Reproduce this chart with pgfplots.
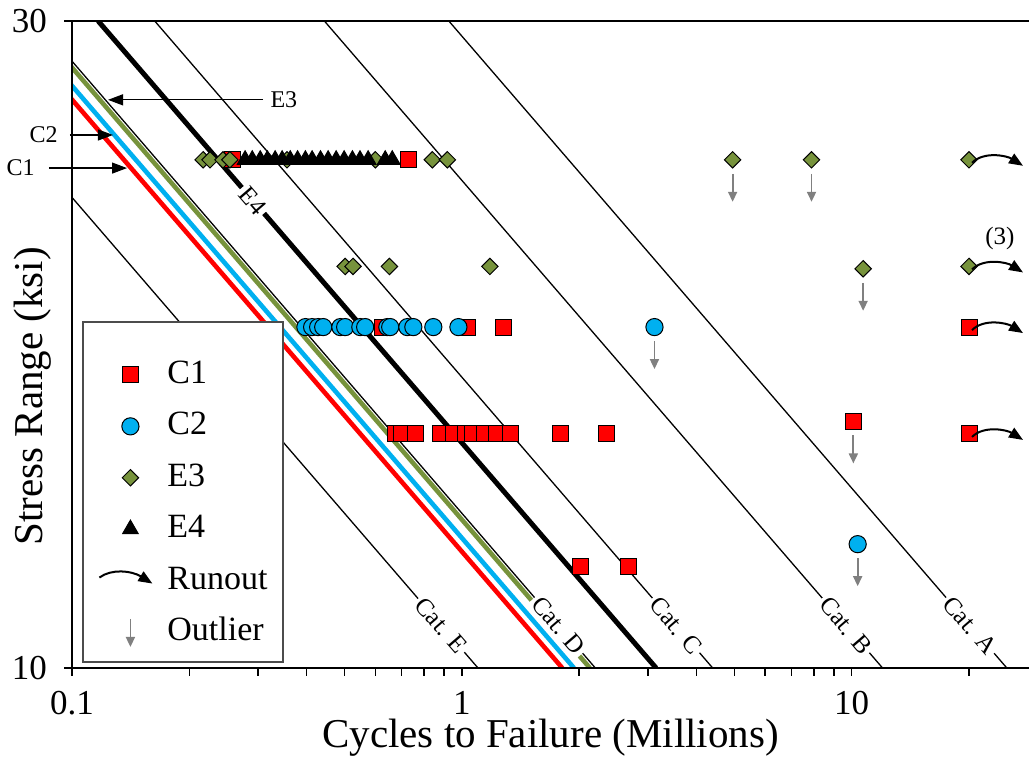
\documentclass[border=0pt]{standalone}
\usepackage{fontspec}
\setmainfont{Liberation Serif}
\usepackage{pgfplots}
\pgfplotsset{compat=1.18}
\usetikzlibrary{arrows.meta}

\definecolor{cOne}{RGB}{255,0,0}
\definecolor{cTwo}{RGB}{0,176,240}
\definecolor{eThree}{RGB}{119,147,60}
\definecolor{outl}{RGB}{128,128,128}

\tikzset{
  runout/.style={line width=1pt, -{Triangle[length=7pt,width=5.5pt]}},
  outlier/.style={draw=outl, line width=0.9pt, -{Triangle[length=5pt,width=4.5pt]}},
  callout/.style={line width=0.6pt, -{Triangle[length=7.5pt,width=5.5pt]}},
  catlabel/.style={font=\fontsize{12.5}{14}\selectfont, fill=white, inner sep=1.5pt, rotate=-49.2},
  smalltext/.style={font=\fontsize{12}{14}\selectfont, inner sep=0pt},
}

\begin{document}
\begin{tikzpicture}
\begin{axis}[
  scale only axis, width=478.5pt, height=323.5pt,
  xmode=log, ymode=log,
  xmin=0.1, xmax=28.5, ymin=10, ymax=30,
  xtick={0.1,1,10}, xticklabels={0.1,1,10},
  minor xtick={0.2,0.3,0.4,0.5,0.6,0.7,0.8,0.9,2,3,4,5,6,7,8,9,20},
  ytick={10,30}, yticklabels={10,30}, minor ytick={},
  tick pos=left, tick align=outside,
  major tick length=4pt, minor tick length=4pt,
  every tick/.style={black, line width=0.7pt},
  axis line style={draw=none},
  ticklabel style={font=\fontsize{17.5}{21}\selectfont},
  xticklabel style={yshift=-4pt},
  yticklabel style={xshift=-5pt},
  /pgf/number format/assume math mode=true,
  xlabel={Cycles to Failure (Millions)},
  ylabel={Stress Range (ksi)},
  every axis x label/.style={at={(axis description cs:0.5,0)}, yshift=-35pt, anchor=center,
    font=\fontsize{20.5}{24}\selectfont},
  every axis y label/.style={at={(axis description cs:0,0.42)}, xshift=-19.5pt, rotate=90, anchor=center,
    font=\fontsize{20.5}{24}\selectfont},
  clip mode=individual,
  legend cell align=left,
  legend style={at={(axis description cs:0.0272,0.2543)}, anchor=west,
    draw=none, fill=none,
    font=\fontsize{17}{20}\selectfont, row sep=5.6pt, column sep=5pt, inner xsep=0pt, inner ysep=0pt,
    nodes={inner sep=2pt, text height=12.3pt, text depth=3.8pt}},
  legend image code/.code={\path (0pt,0pt) (26.5pt,0pt); \draw[#1] plot coordinates {(15.5pt,0pt)};},
]

% AASHTO design categories (N in millions, S in ksi)
\addplot[forget plot, black, line width=0.65pt] coordinates {(0.926,30) (25,10)};
\addplot[forget plot, black, line width=0.65pt] coordinates {(0.444,30) (12,10)};
\addplot[forget plot, black, line width=0.65pt] coordinates {(0.163,30) (4.4,10)};
\addplot[forget plot, black, line width=0.65pt] coordinates {(0.0815,30) (2.2,10)};
\addplot[forget plot, black, line width=0.65pt] coordinates {(0.0407,30) (1.1,10)};

% specimen regression lines
\addplot[forget plot, cOne, line width=2.3pt] coordinates {(0.0670,30) (1.81,10)};
\addplot[forget plot, cTwo, line width=2.3pt] coordinates {(0.0719,30) (1.94,10)};
\addplot[forget plot, eThree, line width=2.3pt] coordinates {(0.0789,30) (2.13,10)};
\addplot[forget plot, black, line width=2.5pt] coordinates {(0.1167,30) (3.15,10)};

% line labels
\node[catlabel] at (axis cs:20.12,10.75) {Cat. A};
\node[catlabel] at (axis cs:9.66,10.75) {Cat. B};
\node[catlabel] at (axis cs:3.54,10.75) {Cat. C};
\node[catlabel] at (axis cs:1.771,10.75) {Cat. D};
\node[catlabel] at (axis cs:0.885,10.75) {Cat. E};
\node[catlabel] at (axis cs:0.2903,22.1) {E4};

% legend frame
\draw[draw=black!70, line width=0.8pt, fill=white]
  (rel axis cs:0.0115,0.5348) rectangle (rel axis cs:0.2205,0.0093);

% test data
\addplot[only marks, mark=square*, mark size=4pt,
  mark options={fill=cOne, draw=black, line width=0.5pt}] coordinates {
  (0.258,23.7) (0.729,23.7)
  (0.625,17.84) (1.033,17.84) (1.28,17.84) (20,17.84)
  (0.675,14.88) (0.700,14.88) (0.760,14.88) (0.881,14.88) (0.951,14.88)
  (1.021,14.88) (1.064,14.88) (1.142,14.88) (1.227,14.88) (1.332,14.88)
  (1.790,14.88) (2.35,14.88) (20,14.88)
  (10.1,15.2)
  (2.01,11.89) (2.68,11.89)
};
\addlegendentry{C1}

\addplot[only marks, mark=*, mark size=4.3pt,
  mark options={fill=cTwo, draw=black, line width=0.5pt}] coordinates {
  (0.397,17.84) (0.413,17.84) (0.428,17.84) (0.441,17.84) (0.488,17.84)
  (0.502,17.84) (0.549,17.84) (0.565,17.84) (0.644,17.84) (0.655,17.84)
  (0.725,17.84) (0.751,17.84) (0.845,17.84) (0.980,17.84) (3.12,17.84)
  (10.36,12.34)
};
\addlegendentry{C2}

\addplot[only marks, mark=square*, mark size=2.9pt,
  mark options={rotate=45, fill=eThree, draw=black, line width=0.5pt}] coordinates {
  (0.217,23.7) (0.226,23.7) (0.244,23.7) (0.254,23.7) (0.356,23.7)
  (0.600,23.7) (0.840,23.7) (0.918,23.7) (4.95,23.7) (7.89,23.7) (20,23.7)
  (0.502,19.78) (0.526,19.78) (0.652,19.78) (1.18,19.78) (20,19.78)
  (10.7,19.7)
};
\addlegendentry{E3}

\addplot[only marks, mark=triangle*, mark size=4.5pt,
  mark options={fill=black, draw=black, line width=0.5pt}] coordinates {
  (0.278,23.7) (0.290,23.7) (0.304,23.7) (0.317,23.7) (0.332,23.7)
  (0.346,23.7) (0.363,23.7) (0.379,23.7) (0.397,23.7) (0.413,23.7)
  (0.434,23.7) (0.454,23.7) (0.476,23.7) (0.499,23.7) (0.524,23.7)
  (0.548,23.7) (0.575,23.7) (0.636,23.7) (0.663,23.7)
};
\addlegendentry{E4}

\addlegendimage{legend image code/.code={\draw[runout] (0pt,1.5pt) .. controls (6pt,6pt) and (16pt,5pt) .. (26.5pt,-1.5pt);}}
\addlegendentry{Runout}
\addlegendimage{legend image code/.code={\path (0pt,0pt) (26.5pt,0pt); \draw[outlier] (15.5pt,6.5pt) -- (15.5pt,-7.5pt);}}
\addlegendentry{Outlier}

% runouts
\foreach \s in {23.7,19.78,17.84,14.88}{
  \edef\temp{\noexpand\draw[runout] (axis cs:20,\s) ++(1.5pt,-1.5pt) .. controls +(6pt,6pt) and +(-8pt,5pt) .. ++(25.5pt,-1.5pt);}
  \temp
}
\node[font=\fontsize{12.5}{14}\selectfont] at (axis cs:24.0,20.75) {(3)};

% outliers
\draw[outlier] (axis cs:4.95,23.7) ++(0pt,-7pt) -- ++(0pt,-14pt);
\draw[outlier] (axis cs:7.89,23.7) ++(0pt,-7pt) -- ++(0pt,-14pt);
\draw[outlier] (axis cs:10.7,19.7) ++(0pt,-7pt) -- ++(0pt,-14pt);
\draw[outlier] (axis cs:3.12,17.84) ++(0pt,-7pt) -- ++(0pt,-14pt);
\draw[outlier] (axis cs:10.1,15.2) ++(0pt,-7pt) -- ++(0pt,-14pt);
\draw[outlier] (axis cs:10.36,12.34) ++(0pt,-7pt) -- ++(0pt,-14pt);

% call-outs for the specimen lines
\draw[callout] (axis cs:0.3093,26.24) -- (axis cs:0.1237,26.24);
\node[smalltext, anchor=west] at (axis cs:0.3223,26.24) {E3};
\draw[callout] (axis cs:0.0988,24.72) -- (axis cs:0.1274,24.72);
\node[smalltext, anchor=east] at (axis cs:0.0921,24.72) {C2};
\draw[callout] (axis cs:0.0873,23.37) -- (axis cs:0.1384,23.37);
\node[smalltext, anchor=east] at (axis cs:0.0804,23.37) {C1};

% frame
\draw[line width=1pt] (rel axis cs:0,1) -- (rel axis cs:0,0) -- (rel axis cs:1,0);
\draw[line width=0.8pt] (rel axis cs:0,1) -- (rel axis cs:1,1);
\end{axis}
\pgfresetboundingbox
\path[use as bounding box] ([xshift=-36pt,yshift=-47pt]current axis.south west) rectangle ([yshift=10.5pt]current axis.north east);
\end{tikzpicture}
\end{document}
